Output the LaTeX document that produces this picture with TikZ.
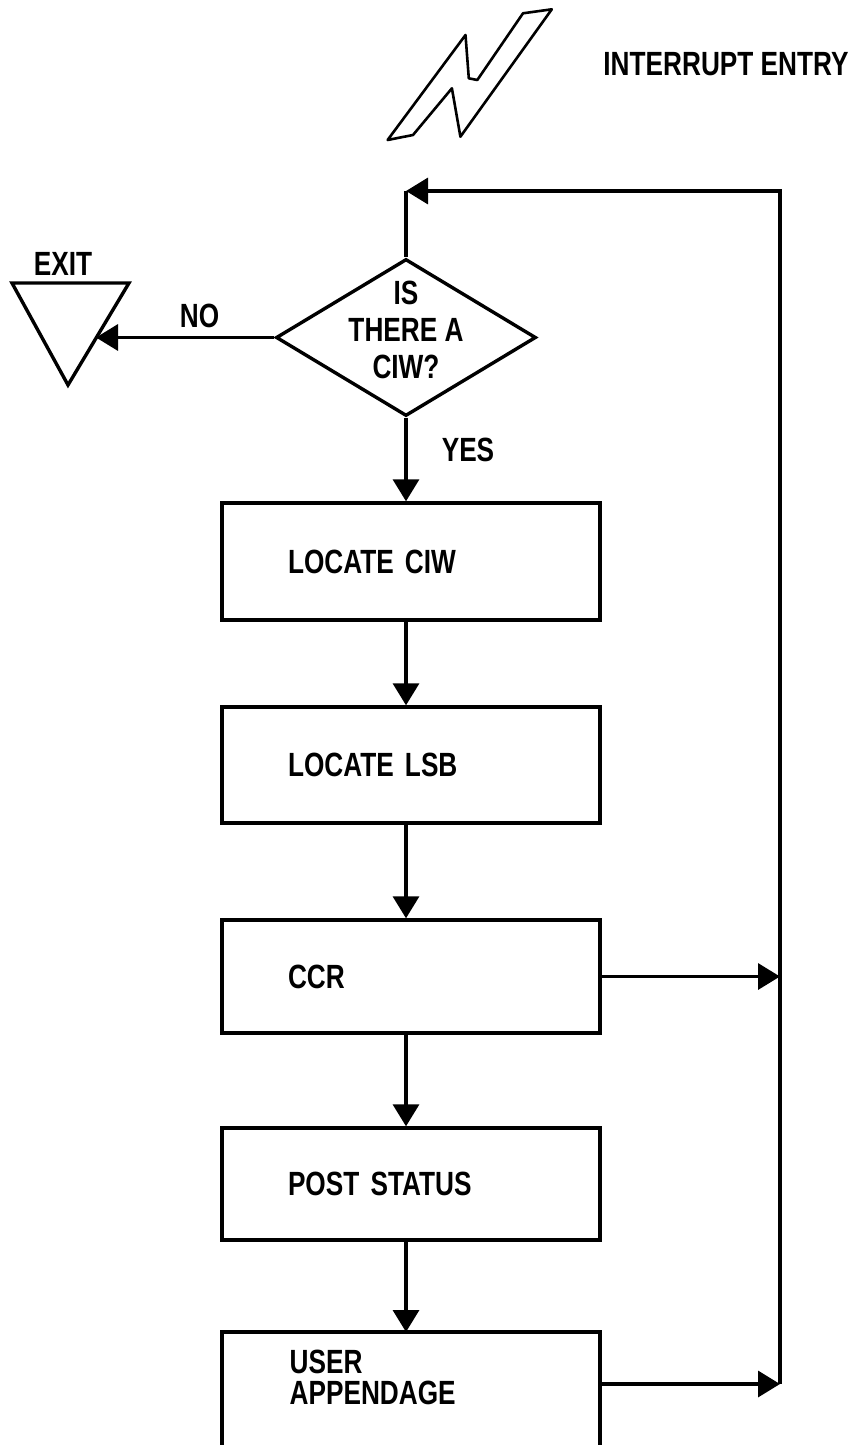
\documentclass[tikz,border=0pt]{standalone}
\usepackage{fontspec}
\setmainfont{Liberation Sans}[FakeStretch=0.78]
\usetikzlibrary{shapes.geometric,arrows.meta,positioning,calc}

\newcommand{\chartfont}{\fontsize{16.8pt}{18.5pt}\selectfont\bfseries}

\tikzset{
  box/.style={draw, rectangle, minimum width=189pt, text width=123pt, inner xsep=33pt, inner ysep=0pt, align=left, font=\chartfont},
  decision/.style={draw, diamond, minimum width=130pt, minimum height=78.5pt, inner sep=0pt},
  lbl/.style={inner sep=0pt, font=\chartfont},
  arr/.style={-{Triangle[length=11pt,width=13pt]}},
}

\begin{document}
\begin{tikzpicture}[x=0.5pt, y=-0.5pt, line width=1.7pt]
    \useasboundingbox (0,0) rectangle (861,1445);

    % interrupt entry symbol
    \draw[line width=1.3pt, line join=round] (387.6,140) -- (465.5,35) -- (468.8,78.3) -- (477.3,80) -- (523,13.3) -- (551.8,9.3) -- (460.4,136.7) -- (451.9,88.3) -- (413,135) -- cycle;
    \node[lbl] (entry) at (726,64.5) {INTERRUPT ENTRY};

    % the test and its exit
    \node[decision] (d) at (406,337.5) {};
    \node[lbl, align=center] (dq) at (406,330) {IS\\THERE A\\CIW?};
    \draw[line join=miter] (12,283) -- (129,283) -- (68,385) -- cycle;    % exit triangle
    \coordinate (exitin) at (96,338);
    \node[lbl] (exit) at (63,263.5) {EXIT};
    \node[lbl] (no) at (199.5,316) {NO};
    \node[lbl] (yes) at (468,450) {YES};

    % process boxes
    \node[box, minimum height=58.5pt] (b1) at (411,561.5) {LOCATE CIW};
    \node[box, minimum height=58pt] (b2) at (411,765) {LOCATE LSB};
    \node[box, minimum height=56.5pt] (b3) at (411,976.5) {CCR};
    \node[box, minimum height=56pt] (b4) at (411,1184) {POST STATUS};
    \draw (222,1445) |- (600,1332) -- (600,1445);    % last box runs off the page
    \node[lbl, anchor=base west] (b5a) at (288,1373) {USER};
    \node[lbl, anchor=base west] (b5b) at (288,1404) {APPENDAGE};
    \coordinate (b5top) at (406,1332);
    \coordinate (b5out) at (600,1384);

    % loop back to the test
    \coordinate (loopbot) at (780,1384);
    \coordinate (looptop) at (780,191);
    \coordinate (back) at (406,191);

    \draw[arr] (d.west) -- (d.west -| exitin);
    \draw[arr] (d.south) -- (b1.north -| d.south);
    \draw[arr] (b1.south -| d.south) -- (b2.north -| d.south);
    \draw[arr] (b2.south -| d.south) -- (b3.north -| d.south);
    \draw[arr] (b3.south -| d.south) -- (b4.north -| d.south);
    \draw[arr] (b4.south -| d.south) -- (b5top);
    \draw[arr] (b3.east) -- (b3.east -| loopbot);
    \draw[arr] (b5out) -- (loopbot);
    \draw[arr] (loopbot) -- (looptop) -- (back);
    \draw (back) -- (d.north);
\end{tikzpicture}
\end{document}
